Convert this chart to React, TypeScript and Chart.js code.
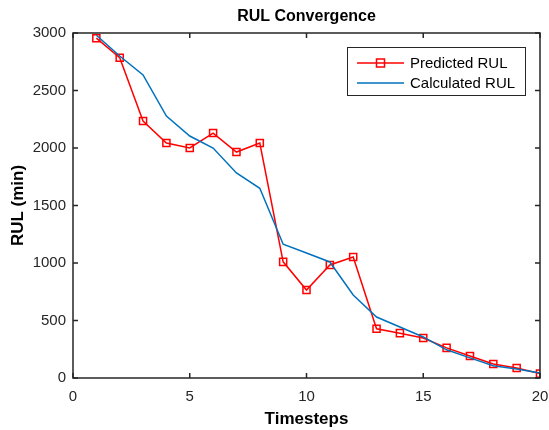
import React, { useEffect, useRef } from "react";
import { Chart, registerables } from "chart.js";

Chart.register(...registerables);

const timesteps = [1, 2, 3, 4, 5, 6, 7, 8, 9, 10, 11, 12, 13, 14, 15, 16, 17, 18, 19, 20];
const predictedRUL = [2955, 2785, 2235, 2043, 2000, 2130, 1965, 2043, 1010, 765, 983, 1052, 428, 390, 348, 262, 192, 122, 87, 38];
const calculatedRUL = [2980, 2800, 2635, 2278, 2104, 2000, 1783, 1650, 1163, 1087, 1009, 722, 530, 443, 357, 245, 175, 106, 78, 43];
const xTicks = [0, 5, 10, 15, 20];
const yTicks = [0, 500, 1000, 1500, 2000, 2500, 3000];
const seriesNames = ["Predicted RUL", "Calculated RUL"];
const chartTitle = "RUL Convergence";
const xTitle = "Timesteps";
const yTitle = "RUL (min)";

const AX = "#262626";
const FONT = "'Liberation Sans', Arial, sans-serif";

const framePlugin = {
  id: "frame",
  afterDraw(chart: any) {
    const { ctx, chartArea: a } = chart;
    const xs = chart.scales.x;
    const ys = chart.scales.y;
    ctx.save();
    // box
    ctx.strokeStyle = AX;
    ctx.lineWidth = 1.5;
    ctx.strokeRect(a.left, a.top, a.right - a.left, a.bottom - a.top);
    // inward ticks
    ctx.lineWidth = 1.5;
    const tl = 5;
    ctx.beginPath();
    for (const v of xTicks) {
      const px = xs.getPixelForValue(v);
      ctx.moveTo(px, a.bottom);
      ctx.lineTo(px, a.bottom - tl);
      ctx.moveTo(px, a.top);
      ctx.lineTo(px, a.top + tl);
    }
    for (const v of yTicks) {
      const py = ys.getPixelForValue(v);
      ctx.moveTo(a.left, py);
      ctx.lineTo(a.left + tl, py);
      ctx.moveTo(a.right, py);
      ctx.lineTo(a.right - tl, py);
    }
    ctx.stroke();
    // tick labels
    ctx.fillStyle = AX;
    ctx.font = `15px ${FONT}`;
    ctx.textAlign = "center";
    ctx.textBaseline = "middle";
    for (const v of xTicks) {
      ctx.fillText(String(v), xs.getPixelForValue(v), a.bottom + 19);
    }
    ctx.textAlign = "right";
    for (const v of yTicks) {
      ctx.fillText(String(v), a.left - 7, ys.getPixelForValue(v));
    }
    // titles
    ctx.fillStyle = "#000";
    ctx.font = `bold 16px ${FONT}`;
    ctx.textAlign = "center";
    ctx.fillText(chartTitle, (a.left + a.right) / 2, 17);
    ctx.font = `bold 17px ${FONT}`;
    ctx.fillText(xTitle, (a.left + a.right) / 2, 419);
    ctx.save();
    ctx.translate(18, (a.top + a.bottom) / 2);
    ctx.rotate(-Math.PI / 2);
    ctx.fillText(yTitle, 0, 0);
    ctx.restore();
    // legend
    const lx = 347.5, ly = 47.5, lw = 178, lh = 48;
    ctx.fillStyle = "#fff";
    ctx.fillRect(lx, ly, lw, lh);
    ctx.strokeStyle = AX;
    ctx.lineWidth = 1;
    ctx.strokeRect(lx, ly, lw, lh);
    const rows = [63, 83];
    const colors = ["#FF0000", "#0072BD"];
    for (let i = 0; i < 2; i++) {
      ctx.strokeStyle = colors[i];
      ctx.lineWidth = 1.5;
      ctx.beginPath();
      ctx.moveTo(357, rows[i]);
      ctx.lineTo(404, rows[i]);
      ctx.stroke();
      if (i === 0) {
        ctx.strokeRect(376.5, rows[i] - 4, 8, 8);
      }
      ctx.fillStyle = "#000";
      ctx.font = `15px ${FONT}`;
      ctx.textAlign = "left";
      ctx.fillText(seriesNames[i], 410, rows[i] + 1);
    }
    ctx.restore();
  },
};

export default function App() {
  const ref = useRef<HTMLCanvasElement>(null);
  useEffect(() => {
    document.body.style.margin = "0";
    const chart = new Chart(ref.current!, {
      type: "line",
      data: {
        datasets: [
          {
            label: seriesNames[0],
            data: timesteps.map((t, i) => ({ x: t, y: predictedRUL[i] })),
            borderColor: "#FF0000",
            backgroundColor: "transparent",
            borderWidth: 1.5,
            pointStyle: "rect",
            pointRadius: 5,
            pointBorderWidth: 1.5,
            pointBorderColor: "#FF0000",
            pointBackgroundColor: "transparent",
            tension: 0,
            order: 2,
          },
          {
            label: seriesNames[1],
            data: timesteps.map((t, i) => ({ x: t, y: calculatedRUL[i] })),
            borderColor: "#0072BD",
            backgroundColor: "transparent",
            borderWidth: 1.5,
            pointRadius: 0,
            tension: 0,
            order: 1,
          },
        ],
      },
      options: {
        animation: false,
        responsive: false,
        maintainAspectRatio: false,
        layout: { padding: { top: 33, right: 9, left: 0, bottom: 0 } },
        plugins: { legend: { display: false }, title: { display: false }, tooltip: { enabled: false } },
        scales: {
          x: {
            type: "linear",
            min: 0,
            max: 20,
            grid: { display: false },
            border: { display: false },
            ticks: { display: false, stepSize: 5 },
            afterFit: (s: any) => { s.height = 52; },
          },
          y: {
            type: "linear",
            min: 0,
            max: 3000,
            grid: { display: false },
            border: { display: false },
            ticks: { display: false, stepSize: 500 },
            afterFit: (s: any) => { s.width = 73; },
          },
        },
      },
      plugins: [framePlugin],
    });
    return () => chart.destroy();
  }, []);
  return (
    <div style={{ width: 549, height: 430, background: "#fff" }}>
      <canvas ref={ref} width={549} height={430} />
    </div>
  );
}
